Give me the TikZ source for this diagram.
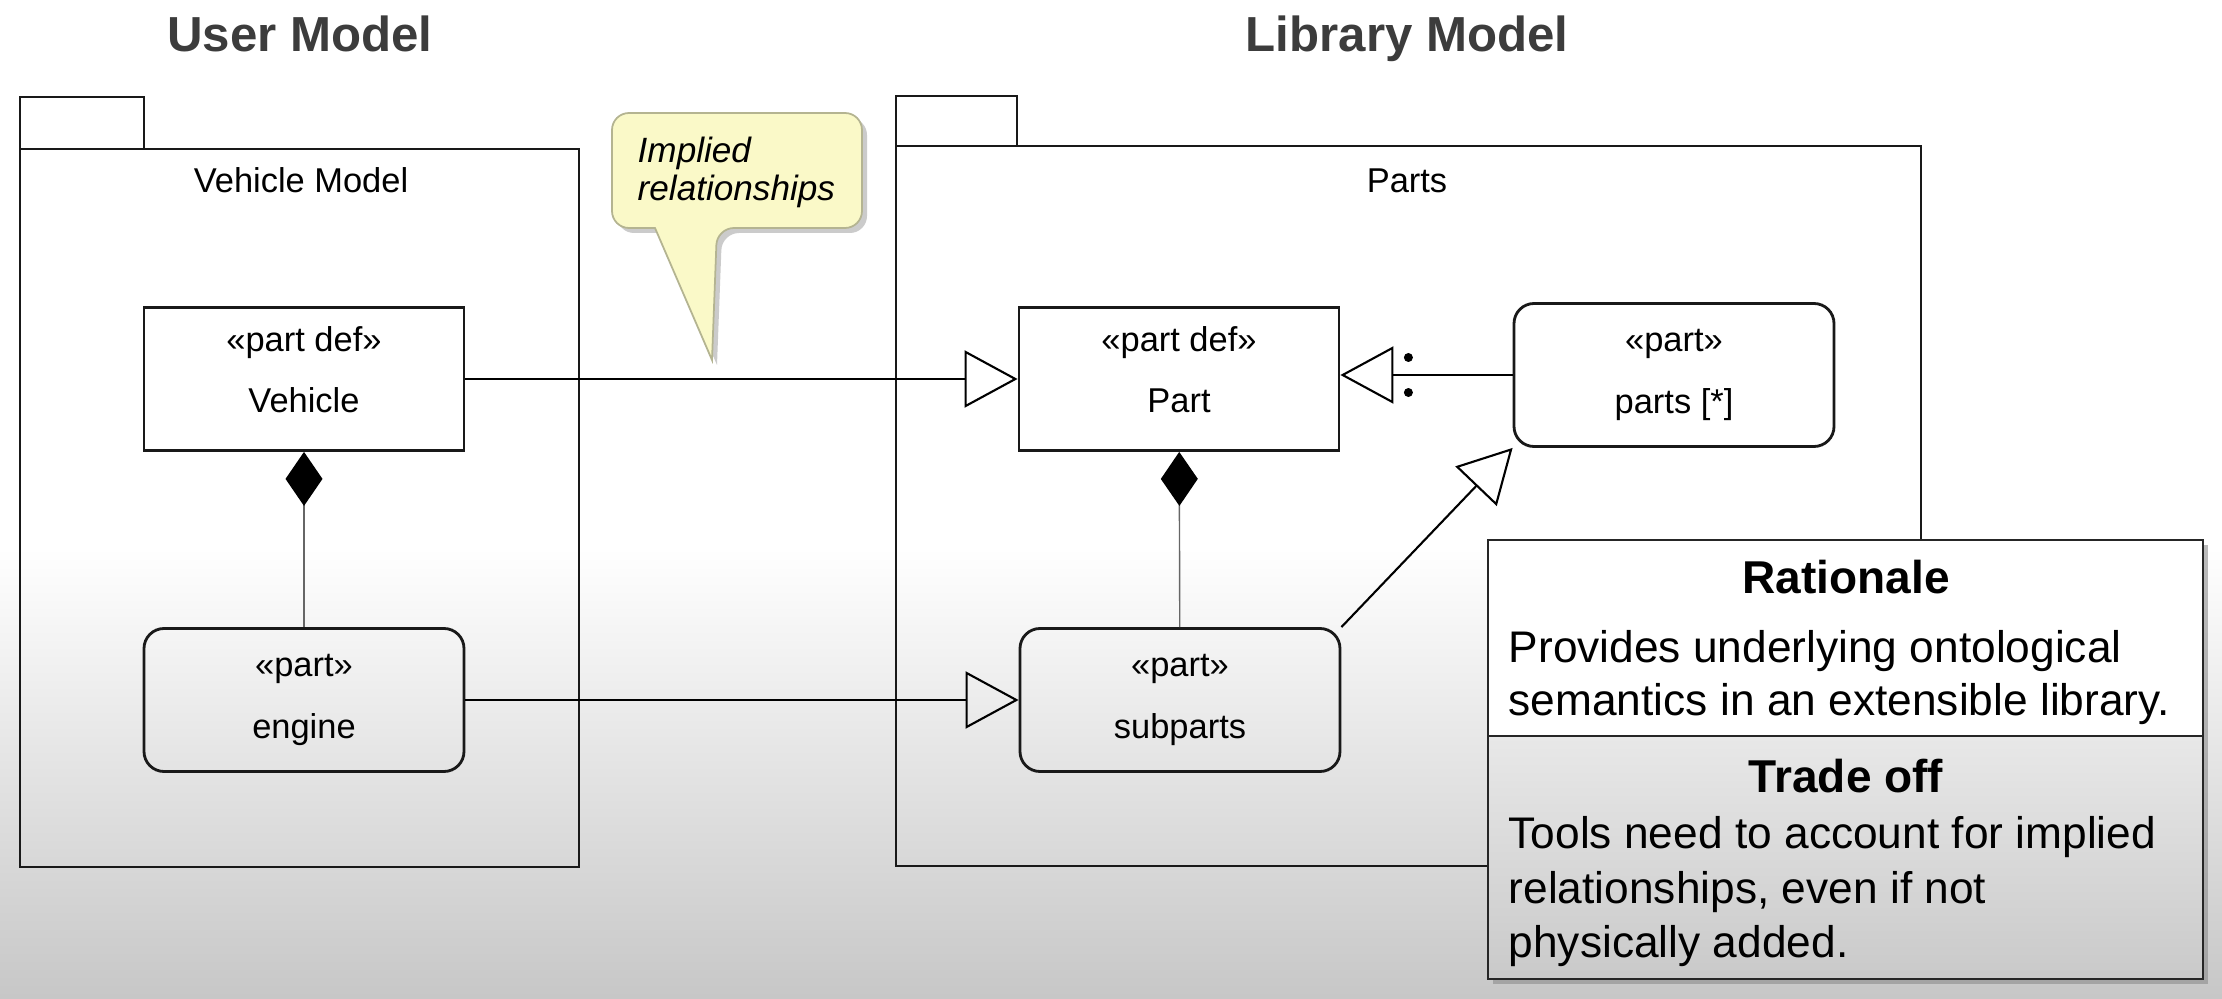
\documentclass[tikz,border=0pt]{standalone}
\usepackage{fontspec}
\setmainfont{Liberation Sans}
\usetikzlibrary{arrows.meta,positioning,calc,shadows}

\definecolor{notebg}{RGB}{250,249,200}
\definecolor{noteline}{RGB}{180,180,145}
\definecolor{titlegray}{RGB}{60,60,60}

\begin{document}
\begin{tikzpicture}[
font=\fontsize{9.8pt}{17.6pt}\selectfont,
pkg/.style={draw=black!90, line width=0.6pt},
block/.style={draw=black!90, line width=0.8pt, rectangle, minimum width=3.2cm, minimum height=1.43cm, align=center, inner sep=0pt},
partdef/.style={block, text depth=0.19cm},
partuse/.style={block, rounded corners=0.2cm},
special/.style={-{Triangle[open, length=0.53cm, width=0.57cm]}, line width=0.6pt},
comp/.style={{Diamond[length=0.54cm, width=0.37cm, color=black]}-, line width=0.4pt, draw=black!60},
title/.style={anchor=base, font=\fontsize{14pt}{16pt}\selectfont\bfseries, text=titlegray},
note/.style={draw=noteline, fill=notebg, line width=0.5pt, rounded corners=0.17cm,
  drop shadow={shadow xshift=0.05cm, shadow yshift=-0.05cm, fill=black!40, opacity=0.5}}
]
    % background
    \fill[white] (0,0) rectangle (22.22,9.98);
    \shade[top color=white, bottom color=black!22] (0,0) rectangle (22.22,4.5);
    \useasboundingbox (0,0) rectangle (22.22,9.98);

    \node[title] (usertitle) at (3.00,9.46) {User Model};
    \node[title] (libtitle) at (14.07,9.46) {Library Model};

    % Vehicle Model package
    \draw[pkg] (0.20,8.49) rectangle (1.44,9.01);
    \draw[pkg] (0.20,1.31) rectangle (5.79,8.49);
    \node[anchor=base] (vmlabel) at (3.01,8.05) {Vehicle Model};

    % Parts package
    \draw[pkg] (8.96,8.52) rectangle (10.17,9.02);
    \draw[pkg] (8.96,1.32) rectangle (19.21,8.52);
    \node[anchor=base] (plabel) at (14.07,8.05) {Parts};

    \node[partdef] (vehicle) at (3.04,6.19) {«part def»\\Vehicle};
    \node[partuse] (engine) at (3.04,2.98) {«part»\\engine};
    \node[partdef] (part) at (11.79,6.19) {«part def»\\Part};
    \node[partuse] (subparts) at (11.80,2.98) {«part»\\subparts};
    \node[partuse] (parts) at (16.74,6.23) {«part»\\parts [*]};

    % implied relationships
  	\draw[special] (vehicle.east) -- (part.west);
  	\draw[special] (engine.east) -- (subparts.west);
  	\draw[special] (subparts.north east) -- (parts.south west);
  	\draw[special] (parts.west) -- (parts.west -| part.east);
  	\fill ($(parts.west -| part.east)+(0.68,0.175)$) circle (0.045);
  	\fill ($(parts.west -| part.east)+(0.68,-0.175)$) circle (0.045);

  	\draw[comp] (vehicle) -- (engine);
  	\draw[comp] (part) -- (subparts);

    % callout
    \draw[note] (7.40,8.85) -- (8.62,8.85) -- (8.62,7.70) -- (7.17,7.70)
      [sharp corners] -- (7.12,6.38) -- (6.55,7.70)
      [rounded corners=0.17cm] -- (6.12,7.70) -- (6.12,8.85) -- cycle;
    \node[anchor=north west, inner sep=0pt, align=left, font=\fontsize{10pt}{10.8pt}\selectfont\itshape] (implied) at (6.37,8.615) {Implied\\relationships};

    % rationale box
    \filldraw[draw=black!85, line width=0.6pt, fill=white,
      drop shadow={shadow xshift=0.05cm, shadow yshift=-0.05cm, fill=black!45, opacity=0.6}]
      (14.88,0.19) rectangle (22.03,4.58);
    \shade[top color=black!9, bottom color=black!21] (14.88,0.19) rectangle (22.03,2.62);
    \draw[draw=black!85, line width=0.6pt] (14.88,0.19) rectangle (22.03,4.58);
    \draw[draw=black!85, line width=0.6pt] (14.88,2.62) -- (22.03,2.62);

    \node[anchor=base, font=\fontsize{13.1pt}{15pt}\selectfont\bfseries] (rattitle) at (18.46,4.05) {Rationale};
    \node[anchor=north west, inner sep=0pt, align=left, font=\fontsize{12.6pt}{15.1pt}\selectfont] (ratbody) at (15.08,3.68)
      {Provides underlying ontological\\semantics in an extensible library.};
    \node[anchor=base, font=\fontsize{13.1pt}{15pt}\selectfont\bfseries] (offtitle) at (18.46,2.06) {Trade off};
    \node[anchor=north west, inner sep=0pt, align=left, font=\fontsize{12.6pt}{15.5pt}\selectfont] (offbody) at (15.08,1.82)
      {Tools need to account for implied\\relationships, even if not\\physically added.};
\end{tikzpicture}
\end{document}
